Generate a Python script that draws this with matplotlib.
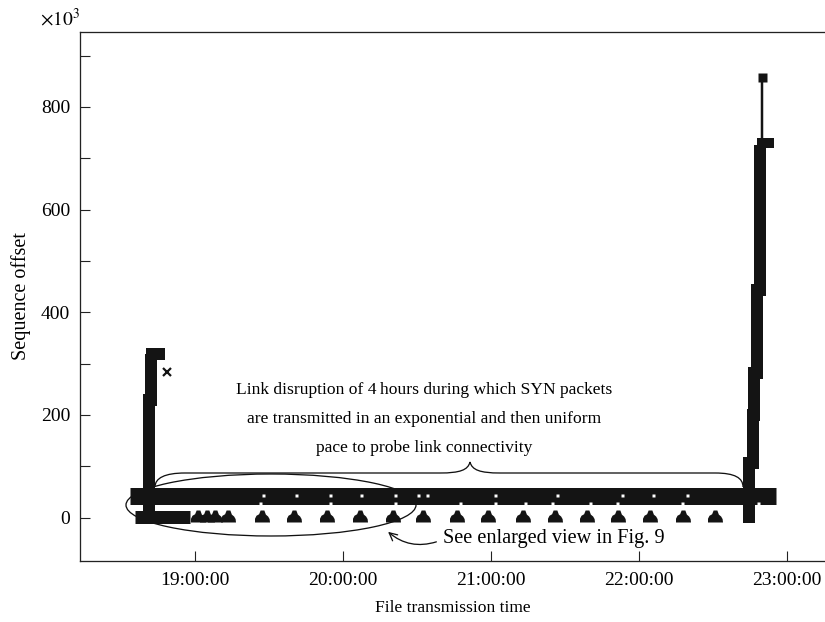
import matplotlib
matplotlib.use("Agg")
import matplotlib.pyplot as plt
import matplotlib.dates as mdates
from matplotlib.path import Path
from matplotlib.patches import Ellipse, PathPatch
from matplotlib.ticker import MultipleLocator
import pandas as pd

plt.rcParams['font.family'] = ['Liberation Serif', 'DejaVu Serif']
plt.rcParams['mathtext.fontset'] = 'stix'

DAY = "2009-01-01 "

# ---------------- data (sequence offset in units of 10^3) ----------------
# continuous SYN probe band during the link disruption
band_time = ["18:33:40", "22:55:34"]
band_seq = [41.5, 41.5]

# early (exponential back-off) probes merged near offset 0
early_time = ["18:35:40", "18:57:58"]
early_seq = [2, 2]

# later (uniform pace) probe clusters near offset 0
probe_time = ["19:01:13", "19:04:52", "19:08:06", "19:13:30", "19:27:02",
              "19:40:08", "19:53:38", "20:06:54", "20:20:09", "20:32:35",
              "20:46:06", "20:58:55", "21:13:06", "21:25:57", "21:38:49",
              "21:51:37", "22:04:26", "22:17:56", "22:30:49"]
probe_seq = [2.3] * 19

# gaps inside the probe band (upper and lower rows)
gap_hi_time = ["19:27:34", "19:40:56", "19:54:44", "20:07:18", "20:21:05",
               "20:30:24", "20:34:03", "21:01:37", "21:26:45", "21:53:06",
               "22:05:41", "22:19:27"]
gap_hi_seq = [44] * 12
gap_lo_time = ["19:26:21", "19:54:44", "20:21:05", "20:47:26", "21:01:37",
               "21:13:47", "21:24:43", "21:40:08", "21:51:05", "22:17:26",
               "22:48:15"]
gap_lo_seq = [29] * 11

# first transfer burst (before the disruption)
left_time = ["18:41:21", "18:41:21", "18:42:22", "18:42:22"]
left_seq = [-10, 229, 229, 318]
left_top_time = ["18:40:08", "18:47:50"]
left_top_seq = [318, 318]
left_x_time = ["18:48:39"]
left_x_seq = [284]

# final transfer burst (after the link is restored)
right_time = ["22:44:35", "22:44:35", "22:46:12", "22:46:12", "22:46:36",
              "22:46:36", "22:47:49", "22:47:49", "22:49:03", "22:49:03"]
right_seq = [-10, 107, 107, 200, 200, 282, 282, 443, 443, 725]
right_block_time = ["22:47:50", "22:54:43"]
right_block_seq = [730, 730]
right_tail_time = ["22:49:52", "22:49:52"]
right_tail_seq = [730, 858]
right_top_time = ["22:50:03"]
right_top_seq = [858]

x_ticks = ["19:00:00", "20:00:00", "21:00:00", "22:00:00", "23:00:00"]
x_limits = ["18:13:23", "23:15:24"]
y_limits = [-83.5, 946]


def T(lst):
    return pd.to_datetime([DAY + t for t in lst])


W, H = 825, 622
fig = plt.figure(figsize=(W / 100, H / 100), dpi=100)
ax = fig.add_axes([80 / W, (H - 560.5) / H, 745 / W, 528.5 / H])

BLK = '#141414'
px = 72 / 100  # points per pixel

ax.plot(T(band_time), band_seq, color=BLK, lw=17 * px, solid_capstyle='butt')
ax.plot(T(early_time), early_seq, color=BLK, lw=13 * px, solid_capstyle='butt')

blob = Path([(-1, -0.8), (1, -0.8), (0.95, -0.35), (0.75, 0.0), (0.45, 0.25),
             (0.25, 0.8), (-0.25, 0.8), (-0.45, 0.3), (-0.8, 0.1),
             (-1.0, -0.3), (-1, -0.8)], closed=True)
ax.plot(T(probe_time), probe_seq, ls='none', marker=blob, ms=15 * px,
        color=BLK, mec='none')

ax.plot(T(left_time), left_seq, color=BLK, lw=12 * px, solid_capstyle='butt',
        solid_joinstyle='miter')
ax.plot(T(left_top_time), left_top_seq, color=BLK, lw=12 * px,
        solid_capstyle='butt')
ax.plot(T(left_x_time), left_x_seq, ls='none', marker='x', ms=8 * px,
        mew=2.2 * px, color=BLK)

ax.plot(T(right_time), right_seq, color=BLK, lw=12 * px, solid_capstyle='butt',
        solid_joinstyle='miter')
ax.plot(T(right_block_time), right_block_seq, color=BLK, lw=10 * px,
        solid_capstyle='butt')
ax.plot(T(right_tail_time), right_tail_seq, color=BLK, lw=2.5 * px,
        solid_capstyle='butt')
ax.plot(T(right_top_time), right_top_seq, ls='none', marker='s', ms=9 * px,
        color=BLK, mec='none')

ax.plot(T(gap_hi_time), gap_hi_seq, ls='none', marker='s', ms=3 * px,
        color='white', mec='none')
ax.plot(T(gap_lo_time), gap_lo_seq, ls='none', marker='s', ms=3 * px,
        color='white', mec='none')

# axes styling
ax.set_xlim(T(x_limits))
ax.set_ylim(y_limits)
ax.set_xticks(T(x_ticks))
ax.xaxis.set_major_formatter(mdates.DateFormatter('%H:%M:%S'))
ax.yaxis.set_major_locator(MultipleLocator(200))
ax.yaxis.set_minor_locator(MultipleLocator(100))
ax.tick_params(axis='both', which='both', direction='in', length=10 * px,
               width=1.1 * px, labelsize=14, color='#222222')
ax.tick_params(axis='y', pad=7)
ax.tick_params(axis='x', pad=8)
for s in ['left', 'bottom', 'top']:
    ax.spines[s].set_linewidth(1.3 * px)
    ax.spines[s].set_color('#222222')
ax.spines['right'].set_visible(False)

ax.set_xlabel('File transmission time', fontsize=12.6, labelpad=8)
ax.set_ylabel('Sequence offset', fontsize=14.5, labelpad=7)

fig.text(60 / W, 1 - 19 / H, r'$\times 10^{3}$', fontsize=14, ha='center',
         va='center')


def fr(x, y):
    return ((x - 80) / 745, (560.5 - y) / 528.5)


ax.text(*fr(424, 419), 'Link disruption of 4\u2009hours during which SYN packets\n'
        'are transmitted in an exponential and then uniform\n'
        'pace to probe link connectivity', transform=ax.transAxes,
        ha='center', va='center', fontsize=12.6, linespacing=2.1,
        multialignment='center')

verts = [fr(155, 487), fr(155, 478), fr(165, 473), fr(185, 473),
         fr(440, 473),
         fr(460, 473), fr(468, 470), fr(470, 462),
         fr(472, 470), fr(480, 473), fr(500, 473),
         fr(715, 473),
         fr(735, 473), fr(743, 478), fr(743, 487)]
codes = [Path.MOVETO, Path.CURVE4, Path.CURVE4, Path.CURVE4, Path.LINETO,
         Path.CURVE4, Path.CURVE4, Path.CURVE4,
         Path.CURVE4, Path.CURVE4, Path.CURVE4,
         Path.LINETO,
         Path.CURVE4, Path.CURVE4, Path.CURVE4]
ax.add_patch(PathPatch(Path(verts, codes), transform=ax.transAxes,
                       fill=False, lw=1.3 * px, color='#111111'))

cx, cy = fr(271, 505)
ax.add_patch(Ellipse((cx, cy), 290 / 745, 62 / 528.5, transform=ax.transAxes,
                     fill=False, lw=1.3 * px, color='#111111'))

ax.annotate('', xy=fr(386, 530), xytext=fr(439, 541), xycoords='axes fraction',
            textcoords='axes fraction',
            arrowprops=dict(arrowstyle='->', color='#111111', lw=1.3 * px,
                            mutation_scale=14,
                            connectionstyle='arc3,rad=-0.3'))
ax.text(*fr(443, 539), 'See enlarged view in Fig. 9', transform=ax.transAxes,
        ha='left', va='center', fontsize=14.6)

fig.savefig('out.png', dpi=100)
